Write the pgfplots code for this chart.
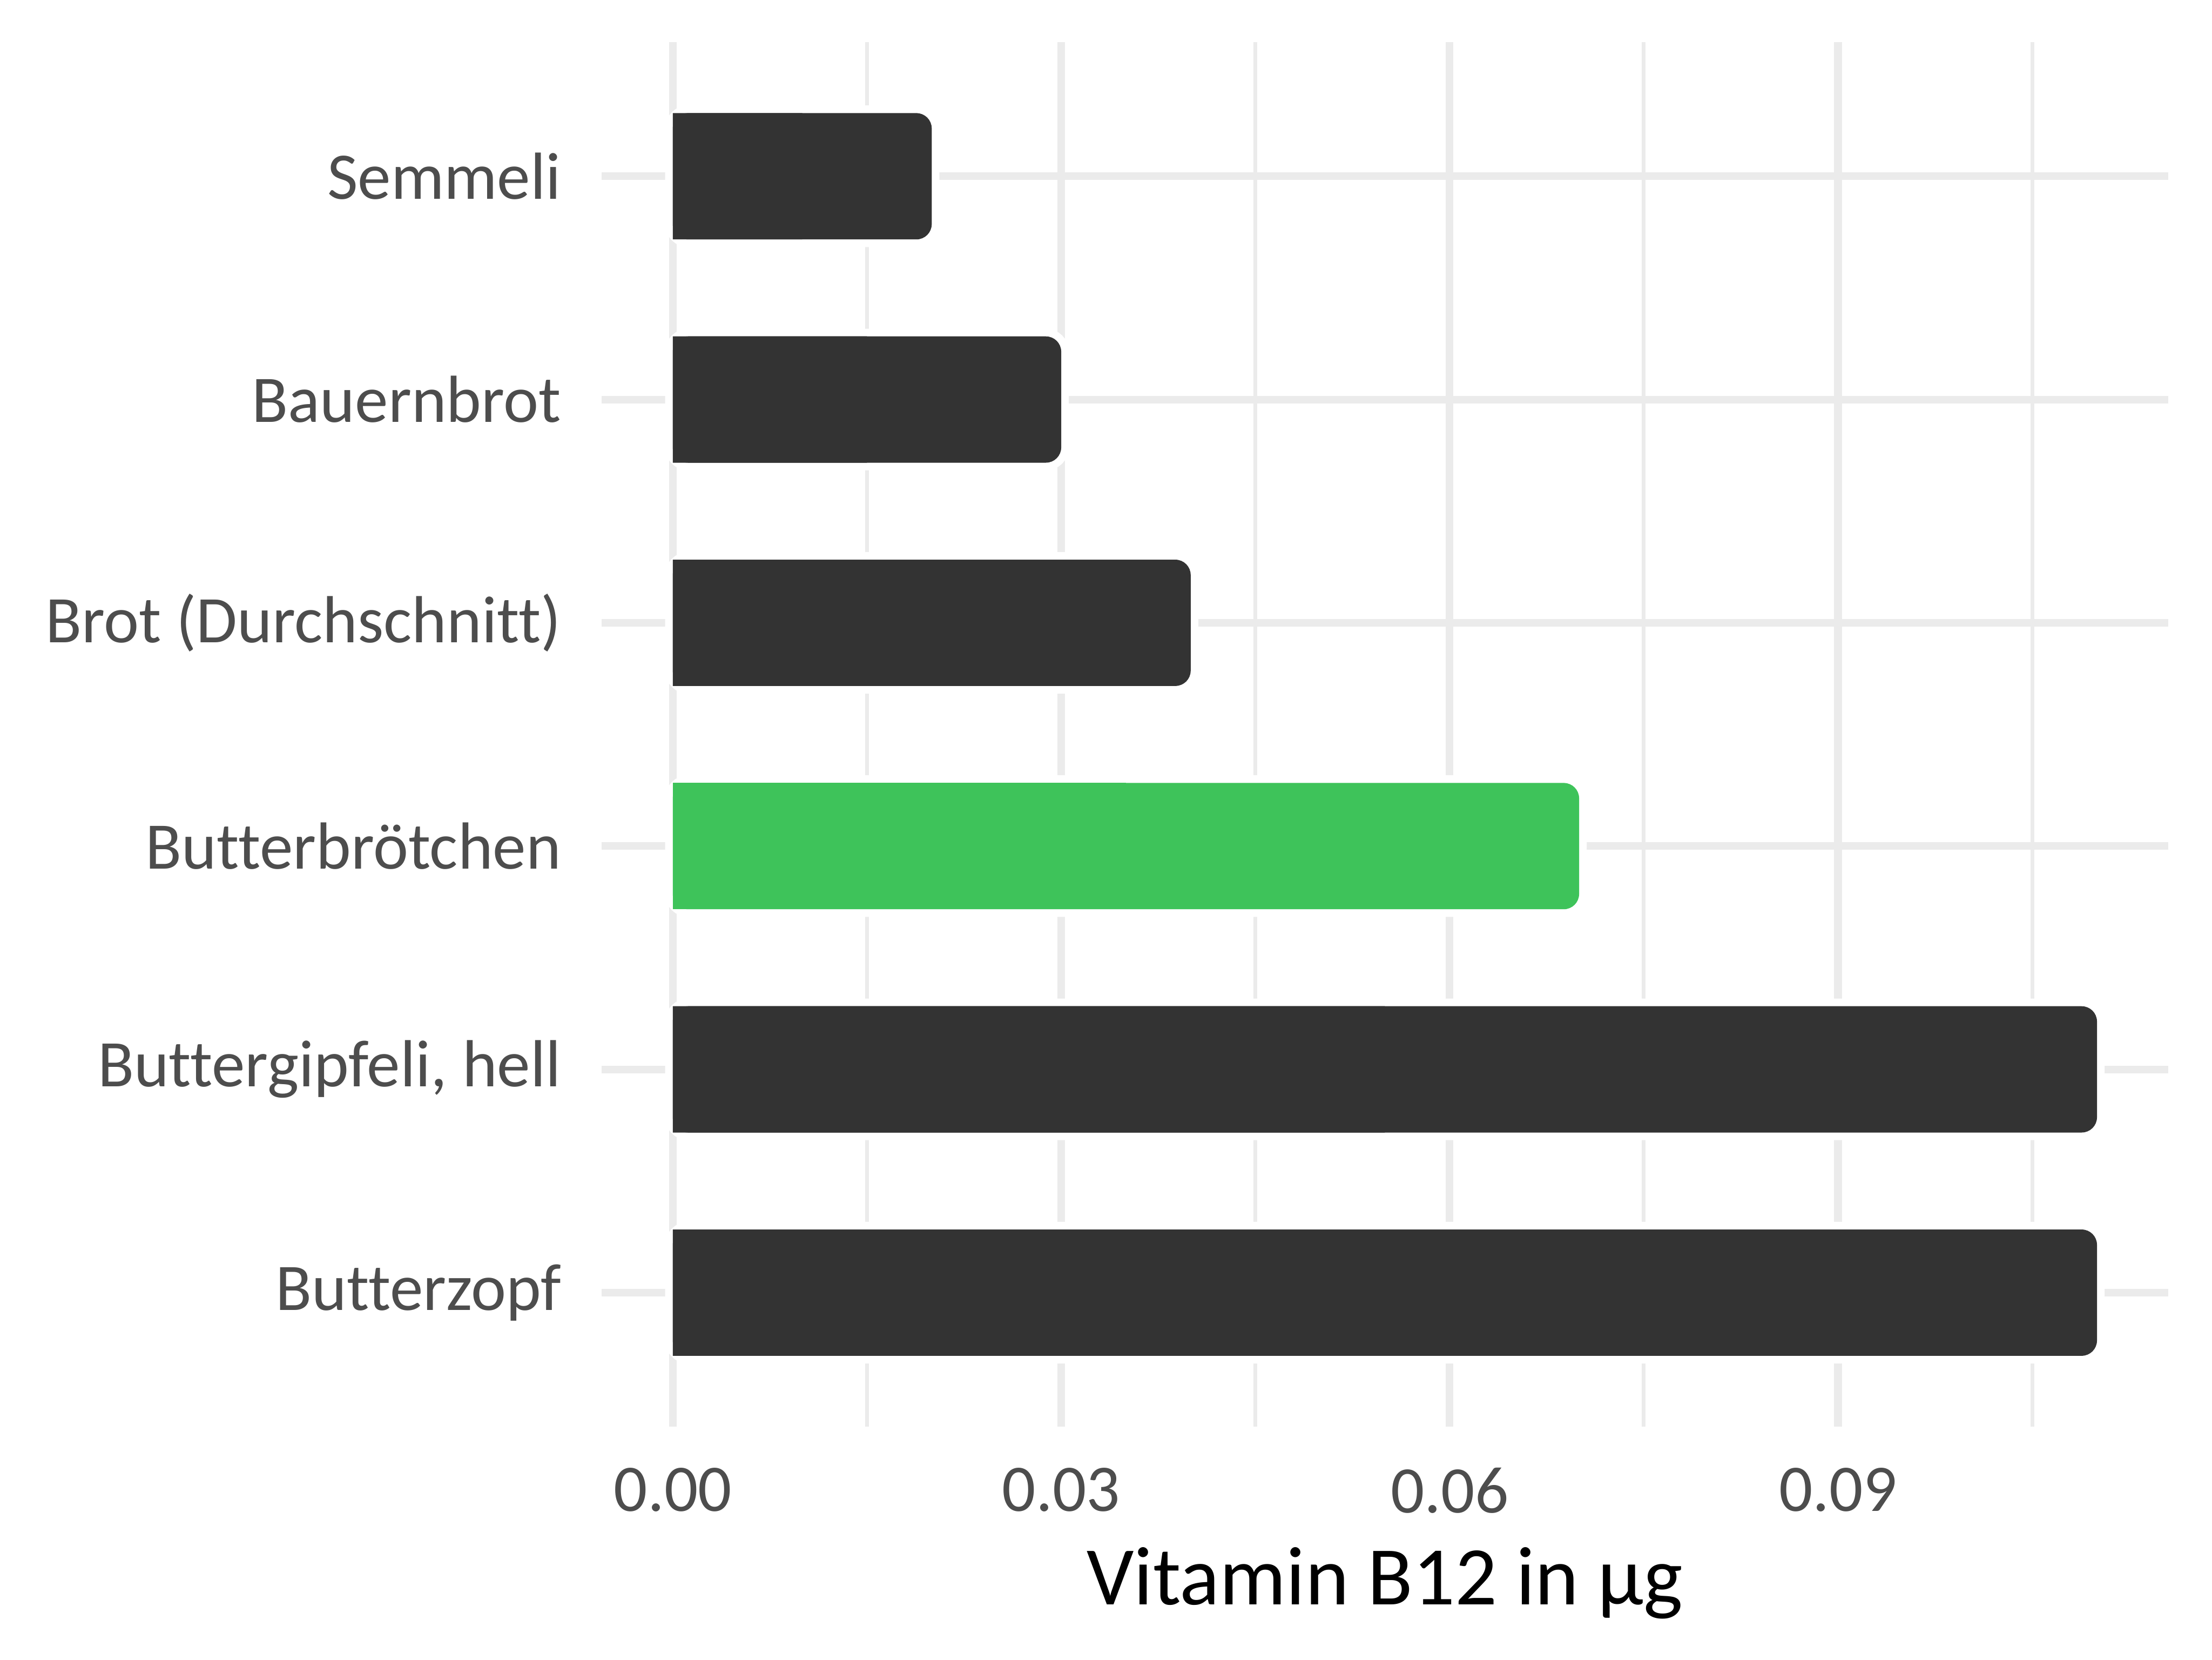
\documentclass[border=0pt]{standalone}
\usepackage{pgfplots}
\pgfplotsset{compat=1.18}
\usepackage{pgfplotstable}
\usepackage{fontspec}
\setmainfont{Carlito}[Ligatures=NoCommon]

\definecolor{bardark}{HTML}{333333}
\definecolor{bargreen}{HTML}{3EC35A}
\definecolor{gridgray}{HTML}{EBEBEB}
\definecolor{labelgray}{HTML}{4D4D4D}

% Vitamin B12 in ug, position 0 = top row
\pgfplotstableread{
pos v
0 0.02
1 0.03
2 0.04
4 0.11
5 0.11
}\darkbars
\pgfplotstableread{
pos v
3 0.07
}\greenbars

\begin{document}
\begin{tikzpicture}
\useasboundingbox (-314.5pt,-121.7pt) rectangle (841.9pt,745.6pt);
\begin{axis}[
  at={(0,0)}, anchor=south west,
  scale only axis, width=819pt, height=723.5pt,
  xmin=-0.0055, xmax=0.1155,
  ymin=-0.6, ymax=5.6, y dir=reverse,
  xtick={0,0.03,0.06,0.09}, xticklabels={0.00,0.03,0.06,0.09},
  minor xtick={0.015,0.045,0.075,0.105},
  ytick={0,...,5},
  yticklabels={Semmeli,Bauernbrot,Brot (Durchschnitt),Butterbrötchen,{Buttergipfeli, hell},Butterzopf},
  grid=both,
  major grid style={gridgray, line width=4pt},
  minor grid style={gridgray, line width=2pt},
  axis line style={draw=none},
  major tick length=0pt, minor tick length=0pt,
  tick label style={font=\fontsize{34.8}{40}\selectfont, text=labelgray, inner sep=0pt},
  yticklabel style={anchor=east, xshift=-21pt},
  xticklabel style={anchor=north, yshift=-21.4pt},
  xlabel={Vitamin B12 in µg},
  xlabel style={at={(axis description cs:0.5,0)}, anchor=base, yshift=-92.9pt,
    font=\fontsize{43.5}{50}\selectfont, text=black, inner sep=0pt},
  xbar, bar shift=0pt, bar width=66pt,
]
% white halo, rounded bar, then square left half
\addplot[fill=white, draw=white, line width=8pt, rounded corners=8pt] table[x=v, y=pos] {\darkbars};
\addplot[fill=bardark, draw=none, rounded corners=8pt] table[x=v, y=pos] {\darkbars};
\addplot[fill=bardark, draw=none] table[x expr=\thisrow{v}/2, y=pos] {\darkbars};
\addplot[fill=white, draw=white, line width=8pt, rounded corners=8pt] table[x=v, y=pos] {\greenbars};
\addplot[fill=bargreen, draw=none, rounded corners=8pt] table[x=v, y=pos] {\greenbars};
\addplot[fill=bargreen, draw=none] table[x expr=\thisrow{v}/2, y=pos] {\greenbars};
\end{axis}
\end{tikzpicture}
\end{document}
